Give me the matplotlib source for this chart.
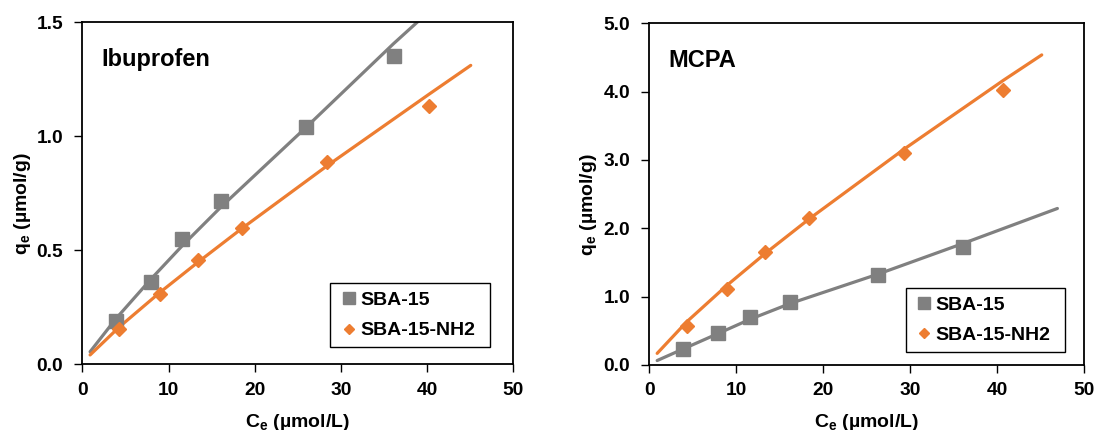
"""Adsorption isotherms of ibuprofen and MCPA on SBA-15 and SBA-15-NH2."""

import matplotlib
matplotlib.use("Agg")
import matplotlib.pyplot as plt

GRAY = "#808080"
ORANGE = "#ED7D31"

# Ibuprofen: measured points
IBU_SBA_C = [3.9, 8.0, 11.6, 16.1, 26.0, 36.1]
IBU_SBA_Q = [0.19, 0.36, 0.55, 0.714, 1.038, 1.35]
IBU_NH2_C = [4.3, 9.0, 13.4, 18.5, 28.4, 40.2]
IBU_NH2_Q = [0.156, 0.306, 0.459, 0.596, 0.885, 1.134]

# Ibuprofen: fitted isotherms
IBU_SBA_FIT_C = [0.9, 3.9, 8.0, 11.6, 16.1, 26.0, 36.1, 45.0]
IBU_SBA_FIT_Q = [0.055, 0.20, 0.375, 0.52, 0.69, 1.04, 1.405, 1.71]
IBU_NH2_FIT_C = [0.9, 4.3, 9.0, 13.4, 18.5, 28.4, 40.2, 45.06]
IBU_NH2_FIT_Q = [0.041, 0.164, 0.315, 0.447, 0.595, 0.870, 1.183, 1.31]

# MCPA: measured points
MCPA_SBA_C = [3.9, 7.9, 11.6, 16.2, 26.3, 36.1]
MCPA_SBA_Q = [0.23, 0.464, 0.698, 0.926, 1.317, 1.731]
MCPA_NH2_C = [4.3, 8.9, 13.3, 18.4, 29.3, 40.7]
MCPA_NH2_Q = [0.57, 1.105, 1.655, 2.152, 3.10, 4.017]

# MCPA: fitted isotherms
MCPA_SBA_FIT_C = [0.9, 3.9, 7.9, 11.6, 16.2, 26.3, 36.1, 46.9]
MCPA_SBA_FIT_Q = [0.065, 0.235, 0.46, 0.67, 0.90, 1.33, 1.78, 2.29]
MCPA_NH2_FIT_C = [0.9, 4.3, 8.9, 13.3, 18.4, 29.3, 40.7, 45.1]
MCPA_NH2_FIT_Q = [0.17, 0.632, 1.163, 1.63, 2.14, 3.16, 4.166, 4.537]

X_TICKS = [0, 10, 20, 30, 40, 50]
IBU_Y_TICKS = [0.0, 0.5, 1.0, 1.5]
MCPA_Y_TICKS = [0.0, 1.0, 2.0, 3.0, 4.0, 5.0]

plt.rcParams["font.family"] = ["Liberation Sans", "DejaVu Sans"]
plt.rcParams["font.weight"] = "bold"
plt.rcParams["mathtext.fontset"] = "custom"
plt.rcParams["mathtext.rm"] = "Liberation Sans:bold"
plt.rcParams["mathtext.it"] = "Liberation Sans:bold"
plt.rcParams["mathtext.bf"] = "Liberation Sans:bold"


def draw_panel(ax, name, sba, nh2, sba_fit, nh2_fit, yticks, legend_box):
    ax.plot(sba_fit[0], sba_fit[1], color=GRAY, linewidth=2.3,
            solid_capstyle="round", zorder=2)
    ax.plot(nh2_fit[0], nh2_fit[1], color=ORANGE, linewidth=2.3,
            solid_capstyle="round", zorder=2)
    ax.plot(sba[0], sba[1], linestyle="none", marker="s", markersize=10.5,
            color=GRAY, label="SBA-15", zorder=3)
    ax.plot(nh2[0], nh2[1], linestyle="none", marker="D", markersize=7.2,
            color=ORANGE, label="SBA-15-NH2", zorder=3)

    ax.set_xlim(0, 50)
    ax.set_ylim(yticks[0], yticks[-1])
    ax.set_xticks(X_TICKS)
    ax.set_yticks(yticks)
    ax.set_xticklabels([str(t) for t in X_TICKS])
    ax.set_yticklabels([f"{t:.1f}" for t in yticks])
    ax.tick_params(direction="out", length=5.5, width=1.0, labelsize=13.8,
                   color="black")
    ax.tick_params(axis="x", pad=7)
    ax.tick_params(axis="y", pad=8.5)
    for spine in ax.spines.values():
        spine.set_linewidth(1.3)
        spine.set_color("black")

    ax.text(0.044, 0.872, name, transform=ax.transAxes, fontsize=17,
            fontweight="bold", ha="left", va="baseline")

    ax.set_xlabel(r"C$_\mathregular{e}$ (µmol/L)", fontsize=14, fontweight="bold")
    ax.set_ylabel(r"q$_\mathregular{e}$ (µmol/g)", fontsize=14, fontweight="bold")
    ax.xaxis.set_label_coords(0.5, -0.138)
    ax.yaxis.set_label_coords(-0.115, 0.47)

    leg = ax.legend(loc="lower left", bbox_to_anchor=legend_box, mode="expand",
                    fontsize=14, frameon=True, fancybox=False, edgecolor="black",
                    framealpha=1, borderpad=0.4, handlelength=1.1,
                    handletextpad=0.03, labelspacing=0.67, borderaxespad=0)
    leg.get_frame().set_linewidth(1.0)
    leg.legend_handles[0].set_markersize(8.4)
    leg.legend_handles[1].set_markersize(4.8)


fig = plt.figure(figsize=(10.95, 4.3), dpi=100)
ax_ibu = fig.add_axes([0.0752, 0.1528, 0.3936, 0.7960])
ax_mcpa = fig.add_axes([0.5930, 0.1512, 0.3973, 0.7947])

draw_panel(ax_ibu, "Ibuprofen",
           (IBU_SBA_C, IBU_SBA_Q), (IBU_NH2_C, IBU_NH2_Q),
           (IBU_SBA_FIT_C, IBU_SBA_FIT_Q), (IBU_NH2_FIT_C, IBU_NH2_FIT_Q),
           IBU_Y_TICKS, (0.575, 0.05, 0.372, 0.209))
draw_panel(ax_mcpa, "MCPA",
           (MCPA_SBA_C, MCPA_SBA_Q), (MCPA_NH2_C, MCPA_NH2_Q),
           (MCPA_SBA_FIT_C, MCPA_SBA_FIT_Q), (MCPA_NH2_FIT_C, MCPA_NH2_FIT_Q),
           MCPA_Y_TICKS, (0.589, 0.038, 0.366, 0.212))

fig.savefig("out.png", dpi=100)
